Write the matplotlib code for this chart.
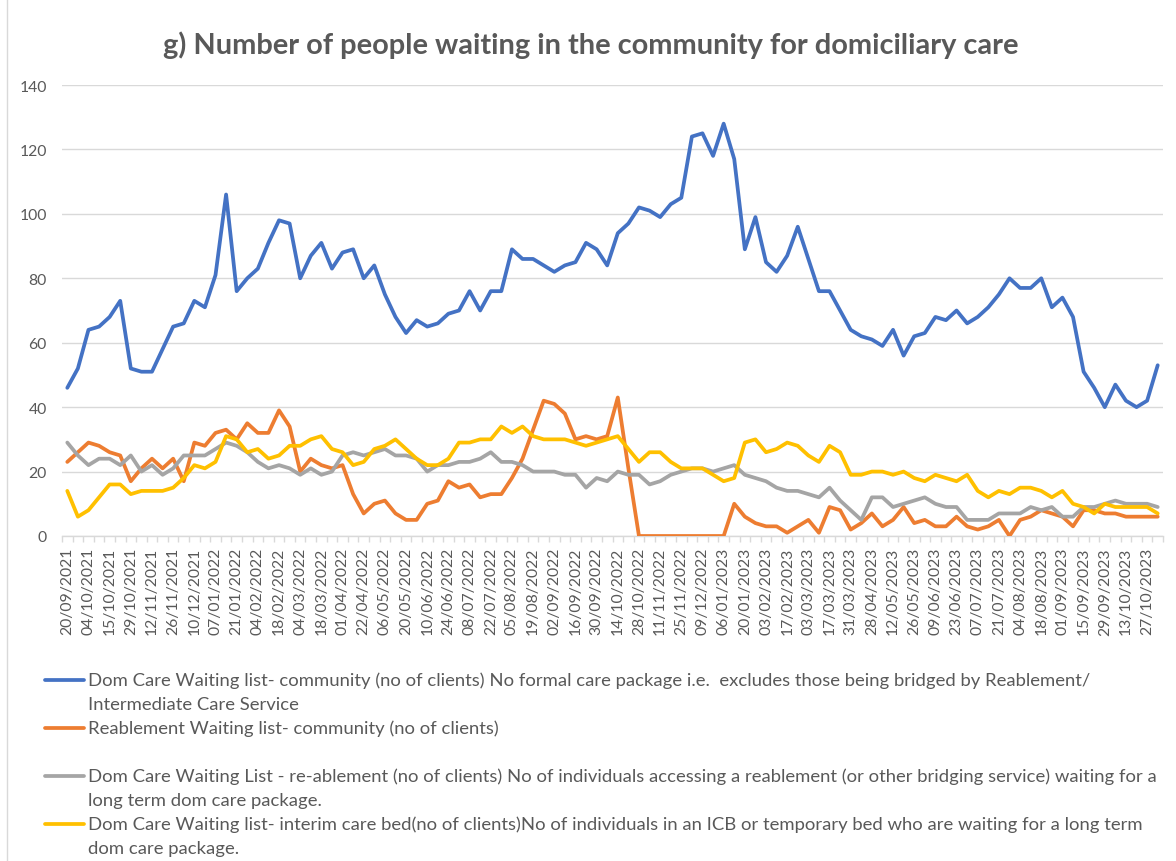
import matplotlib
matplotlib.use("Agg")
import matplotlib.pyplot as plt
from matplotlib.lines import Line2D
from matplotlib.ticker import FixedLocator

# ---------------- data ----------------
tick_labels = [
    "20/09/2021", "04/10/2021", "15/10/2021", "29/10/2021", "12/11/2021", "26/11/2021",
    "10/12/2021", "07/01/2022", "21/01/2022", "04/02/2022", "18/02/2022", "04/03/2022",
    "18/03/2022", "01/04/2022", "22/04/2022", "06/05/2022", "20/05/2022", "10/06/2022",
    "24/06/2022", "08/07/2022", "22/07/2022", "05/08/2022", "19/08/2022", "02/09/2022",
    "16/09/2022", "30/09/2022", "14/10/2022", "28/10/2022", "11/11/2022", "25/11/2022",
    "09/12/2022", "06/01/2023", "20/01/2023", "03/02/2023", "17/02/2023", "03/03/2023",
    "17/03/2023", "31/03/2023", "28/04/2023", "12/05/2023", "26/05/2023", "09/06/2023",
    "23/06/2023", "07/07/2023", "21/07/2023", "04/08/2023", "18/08/2023", "01/09/2023",
    "15/09/2023", "29/09/2023", "13/10/2023", "27/10/2023",
]

dom_care_community = [
    46, 52, 64, 65, 68, 73, 52, 51, 51, 58, 65, 66, 73, 71, 81, 106, 76, 80, 83, 91, 98, 97, 80, 87, 91, 83,
    88, 89, 80, 84, 75, 68, 63, 67, 65, 66, 69, 70, 76, 70, 76, 76, 89, 86, 86, 84, 82, 84, 85, 91, 89, 84,
    94, 97, 102, 101, 99, 103, 105, 124, 125, 118, 128, 117, 89, 99, 85, 82, 87, 96, 86, 76, 76, 70, 64, 62, 61, 59,
    64, 56, 62, 63, 68, 67, 70, 66, 68, 71, 75, 80, 77, 77, 80, 71, 74, 68, 51, 46, 40, 47, 42, 40, 42, 53,
]
reablement_community = [
    23, 26, 29, 28, 26, 25, 17, 21, 24, 21, 24, 17, 29, 28, 32, 33, 30, 35, 32, 32, 39, 34, 20, 24, 22, 21,
    22, 13, 7, 10, 11, 7, 5, 5, 10, 11, 17, 15, 16, 12, 13, 13, 18, 24, 33, 42, 41, 38, 30, 31, 30, 31,
    43, 21, 0, 0, 0, 0, 0, 0, 0, 0, 0, 10, 6, 4, 3, 3, 1, 3, 5, 1, 9, 8, 2, 4, 7, 3,
    5, 9, 4, 5, 3, 3, 6, 3, 2, 3, 5, 0, 5, 6, 8, 7, 6, 3, 8, 8, 7, 7, 6, 6, 6, 6,
]
dom_care_reablement = [
    29, 25, 22, 24, 24, 22, 25, 20, 22, 19, 21, 25, 25, 25, 27, 29, 28, 26, 23, 21, 22, 21, 19, 21, 19, 20,
    25, 26, 25, 26, 27, 25, 25, 24, 20, 22, 22, 23, 23, 24, 26, 23, 23, 22, 20, 20, 20, 19, 19, 15, 18, 17,
    20, 19, 19, 16, 17, 19, 20, 21, 21, 20, 21, 22, 19, 18, 17, 15, 14, 14, 13, 12, 15, 11, 8, 5, 12, 12,
    9, 10, 11, 12, 10, 9, 9, 5, 5, 5, 7, 7, 7, 9, 8, 9, 6, 6, 9, 9, 10, 11, 10, 10, 10, 9,
]
dom_care_interim_bed = [
    14, 6, 8, 12, 16, 16, 13, 14, 14, 14, 15, 18, 22, 21, 23, 31, 30, 26, 27, 24, 25, 28, 28, 30, 31, 27,
    26, 22, 23, 27, 28, 30, 27, 24, 22, 22, 24, 29, 29, 30, 30, 34, 32, 34, 31, 30, 30, 30, 29, 28, 29, 30,
    31, 27, 23, 26, 26, 23, 21, 21, 21, 19, 17, 18, 29, 30, 26, 27, 29, 28, 25, 23, 28, 26, 19, 19, 20, 20,
    19, 20, 18, 17, 19, 18, 17, 19, 14, 12, 14, 13, 15, 15, 14, 12, 14, 10, 9, 7, 10, 9, 9, 9, 9, 7,
]

series_labels = [
    ["Dom Care Waiting list- community (no of clients) No formal care package i.e.  excludes those being bridged by Reablement/",
     "Intermediate Care Service"],
    ["Reablement Waiting list- community (no of clients)"],
    ["Dom Care Waiting List - re-ablement (no of clients) No of individuals accessing a reablement (or other bridging service) waiting for a",
     "long term dom care package."],
    ["Dom Care Waiting list- interim care bed(no of clients)No of individuals in an ICB or temporary bed who are waiting for a long term",
     "dom care package."],
]
series_values = [dom_care_community, reablement_community, dom_care_reablement, dom_care_interim_bed]
colors = ["#4472C4", "#ED7D31", "#A5A5A5", "#FFC000"]
title = "g) Number of people waiting in the community for domiciliary care"

# ---------------- figure ----------------
W, H = 1176, 862
plt.rcParams['font.family'] = ['Lato', 'DejaVu Sans']
TXT = "#595959"
GRID = "#D9D9D9"
LW = 2.7

fig = plt.figure(figsize=(W / 100, H / 100), dpi=100)
fig.patch.set_facecolor("white")

def fx(px):
    return px / W

def fy(py):
    return 1 - py / H

ax = fig.add_axes([fx(62), fy(537), fx(1163) - fx(62), fy(86) - fy(537)])

n = len(dom_care_community)
x = list(range(n))
for vals, c in zip(series_values, colors):
    ax.plot(x, vals, color=c, lw=LW, solid_joinstyle='round', solid_capstyle='round', zorder=3)

ax.set_xlim(-0.5, n - 0.5)
ax.set_ylim(0, 140)
ax.set_yticks(range(0, 141, 20))
ax.yaxis.grid(True, color=GRID, lw=1.0, zorder=0)
ax.set_axisbelow(True)
for s in ["top", "right", "left"]:
    ax.spines[s].set_visible(False)
ax.spines["bottom"].set_color(GRID)
ax.spines["bottom"].set_linewidth(1.0)

ax.set_xticks(range(0, n, 2))
ax.set_xticklabels(tick_labels, rotation=90, fontsize=11.3, color=TXT)
ax.xaxis.set_minor_locator(FixedLocator([i - 0.5 for i in range(n + 1)]))
ax.tick_params(axis='x', which='major', length=0, pad=8)
ax.tick_params(axis='x', which='minor', length=4, color=GRID, width=1.0)
ax.tick_params(axis='y', length=0, pad=11, labelsize=11.3, labelcolor=TXT)

# title, scaled to the reference width
t = fig.text(fx(591), fy(45), title, ha='center', va='center', fontsize=17,
             fontweight='bold', color=TXT)
fig.canvas.draw()
r = fig.canvas.get_renderer()
bw = t.get_window_extent(r).width
t.set_fontsize(17 * (857 / bw))

# legend (custom, first line aligned with the handle)
y_first = [681, 729, 777, 825]
line_gap = 24
legend_texts = []
for lines, c, yy in zip(series_labels, colors, y_first):
    fig.add_artist(Line2D([fx(45), fx(84)], [fy(yy), fy(yy)], color=c, lw=LW,
                          solid_capstyle='round'))
    for k, ln in enumerate(lines):
        tt = fig.text(fx(88), fy(yy + k * line_gap), ln, ha='left', va='center',
                      fontsize=12, color=TXT)
        legend_texts.append(tt)

fig.canvas.draw()
ref = legend_texts[3]  # gray first line, ends ~1150 px
w = ref.get_window_extent(r).width
scale = (1150 - 88) / w
for tt in legend_texts:
    tt.set_fontsize(12 * scale)

# chart-area border on the left
fig.add_artist(Line2D([fx(7), fx(7)], [0, 1], color=GRID, lw=1.0))

fig.savefig("out.png", dpi=100, facecolor="white")
